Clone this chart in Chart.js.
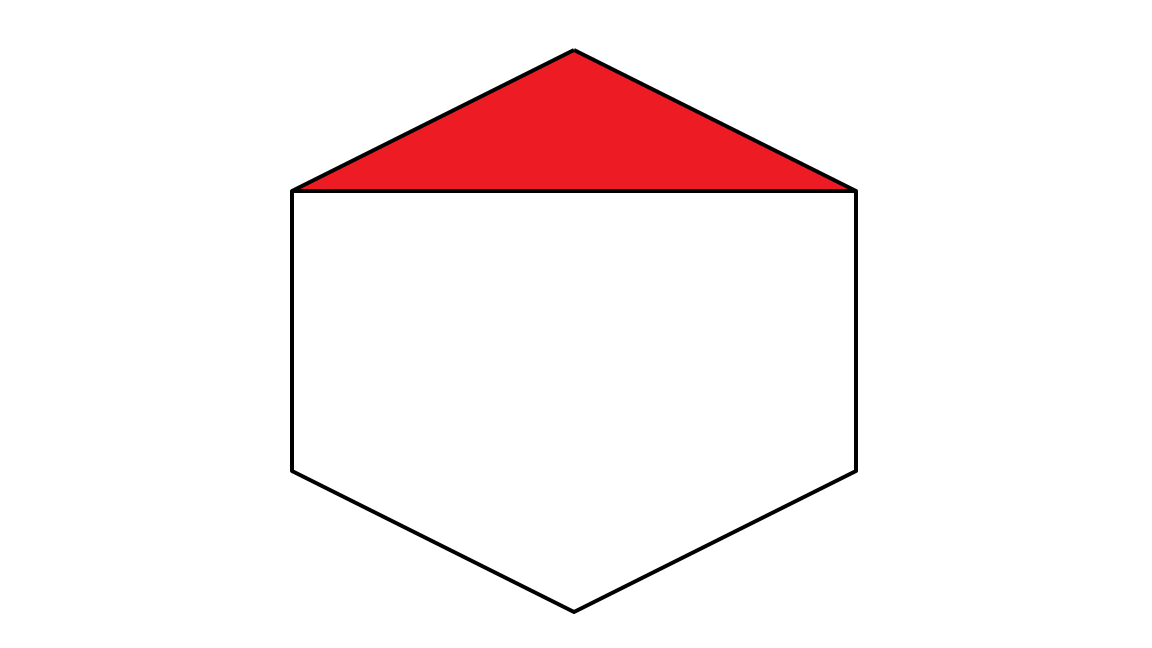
<!DOCTYPE html>
<html><head><meta charset="utf-8">
<script src="https://cdn.jsdelivr.net/npm/chart.js@4"></script>
<style>html,body{margin:0;padding:0;background:#fff;overflow:hidden}</style>
</head><body>
<canvas id="c" width="1152" height="648"></canvas>
<script>
// Hexagon outline vertices (closed), and the red top triangle
const hexX = [574, 856, 856, 574, 292, 292, 574];
const hexY = [50, 191, 471, 612, 471, 191, 50];
const divX = [292, 856];
const divY = [191, 191];
const triX = [292, 574, 856];
const triY = [191, 50, 191];
const triBase = 191;

const pts = (xs, ys) => xs.map((x, i) => ({x, y: ys[i]}));

new Chart(document.getElementById('c'), {
  type: 'scatter',
  data: {
    datasets: [
      {data: pts(hexX, hexY), showLine: true, borderColor: '#000', borderWidth: 4,
       pointRadius: 0, fill: false, order: 0, borderJoinStyle: 'round'},
      {data: pts(divX, divY), showLine: true, borderColor: '#000', borderWidth: 4,
       pointRadius: 0, fill: false, order: 0},
      {data: pts(triX, triY), showLine: true, borderColor: '#ED1C24', borderWidth: 1,
       backgroundColor: '#ED1C24', pointRadius: 0, fill: {value: triBase}, order: 2}
    ]
  },
  options: {
    responsive: false, animation: false,
    layout: {padding: 0},
    plugins: {legend: {display: false}, tooltip: {enabled: false}},
    scales: {
      x: {type: 'linear', min: 0, max: 1152, display: false},
      y: {type: 'linear', min: 0, max: 648, reverse: true, display: false}
    }
  }
});
</script>
</body></html>
